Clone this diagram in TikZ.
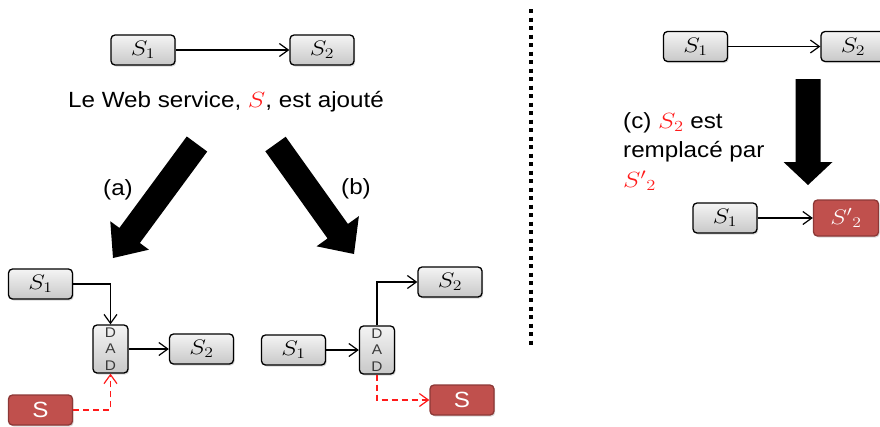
\RequirePackage{fix-cm}
\documentclass[tikz,border=0pt]{standalone}
\usepackage{fontspec}
\setmainfont{Liberation Sans}[FakeStretch=1.1]
\usetikzlibrary{arrows.meta,calc,shadows}

\definecolor{boxtop}{HTML}{F4F4F4}
\definecolor{boxbot}{HTML}{C8C8C8}
\definecolor{svcred}{HTML}{C0504D}
\definecolor{svcedge}{HTML}{8C3836}
\definecolor{hlred}{HTML}{FF1A1A}
\definecolor{dadtext}{HTML}{3A3A3A}

% service names, set a little wide
\newcommand\svname[1]{\scalebox{1.2}[1]{$#1$}}

% thick block arrow: #1 tail centre, #2 tip, #3 head length,
% #4 shaft half width, #5 head half width
\newcommand\blockarrow[5]{%
  \coordinate (#1h) at ($(#2)!#3!(#1)$);
  \fill ($(#1)!#4!90:(#2)$) -- ($(#1h)!#4!90:(#2)$) -- ($(#1h)!#5!90:(#2)$)
    -- (#2) -- ($(#1h)!#5!-90:(#2)$) -- ($(#1h)!#4!-90:(#2)$)
    -- ($(#1)!#4!-90:(#2)$) -- cycle;}

\begin{document}
\begin{tikzpicture}[x=1pt,y=-1pt,
  boxbase/.style={line width=1.3pt, rounded corners=4pt, inner sep=0pt,
    minimum width=64pt, minimum height=30pt,
    drop shadow={opacity=0.3, shadow xshift=1.2pt, shadow yshift=-1.5pt}},
  svc/.style={boxbase, draw=black, top color=boxtop, bottom color=boxbot,
    font=\fontsize{21}{21}\selectfont},
  newsvc/.style={boxbase, draw=svcedge, fill=svcred, text=white,
    font=\fontsize{22}{22}\selectfont},
  dad/.style={boxbase, draw=black, top color=boxtop, bottom color=boxbot,
    minimum width=35pt, minimum height=48pt, align=center, text=dadtext,
    font=\fontsize{14}{16.5}\selectfont},
  lbl/.style={font=\fontsize{22}{29.5}\selectfont, inner sep=0pt},
  conn/.style={-{Straight Barb[length=9pt,width=13pt]}, line width=1.2pt},
  newconn/.style={conn, draw=hlred, dash pattern=on 6pt off 4pt},
]
\useasboundingbox (0,0) rectangle (880,426);
\clip (0,0) rectangle (880,426);

% ---- initial composition
\node[svc] (s1) at (143,50) {\svname{S_1}};
\node[svc] (s2) at (322,50) {\svname{S_2}};
\draw[conn] (s1) -- (s2);
\node[lbl, anchor=base] (title) at (226,107)
  {Le Web service, \textcolor{hlred}{\svname{S}}, est ajouté};

% ---- the two insertion cases
\coordinate (ta) at (197,144);
\coordinate (pa) at (113,258);
\blockarrow{ta}{pa}{28pt}{12.7pt}{24pt}
\coordinate (tb) at (275.5,144);
\coordinate (pb) at (354,254);
\blockarrow{tb}{pb}{28pt}{12.5pt}{26pt}
\node[lbl] (la) at (118,190) {(a)};
\node[lbl] (lb) at (356,189) {(b)};

% ---- case (a): S feeds the DAD
\node[svc] (a1) at (40.5,284) {\svname{S_1}};
\node[dad] (ad) at (110.5,349) {D\\A\\D};
\node[svc] (a2) at (201.5,349) {\svname{S_2}};
\node[newsvc] (as) at (40.5,410) {S};
\draw[conn] (a1.east) -| (ad.north);
\draw[conn] (ad) -- (a2);
\draw[newconn] (as.east) -| (ad.south);

% ---- case (b): the DAD feeds S
\node[svc] (b1) at (293.5,350) {\svname{S_1}};
\node[dad] (bd) at (377,350) {D\\A\\D};
\node[svc] (b2) at (450,282) {\svname{S_2}};
\node[newsvc] (bs) at (462,400) {S};
\draw[conn] (b1) -- (bd);
\draw[conn] (bd.north) |- (b2.west);
\draw[newconn] (bd.south) |- (bs.west);

% ---- separator
\draw[line width=4pt, dash pattern=on 4pt off 4.5pt] (531,9) -- (531,347);

% ---- case (c): replacement
\node[svc] (c1) at (695.5,46.5) {\svname{S_1}};
\node[svc] (c2) at (853,46.5) {\svname{S_2}};
\draw[conn] (c1) -- (c2);
\coordinate (tc) at (808,79);
\coordinate (pc) at (808,185);
\blockarrow{tc}{pc}{23pt}{12.5pt}{24.5pt}
% base anchor of a multi-line node sits on its last line
\node[lbl, anchor=base west, align=left] (lc) at (623,187)
  {(c) \textcolor{hlred}{\svname{S_2}} est\\remplacé par\\\textcolor{hlred}{\svname{{S'}_2}}};
\node[svc] (d1) at (725,218) {\svname{S_1}};
\node[newsvc, minimum height=36pt, minimum width=65pt,
  font=\fontsize{21}{21}\selectfont] (d2) at (846,218) {\svname{{S'}_2}};
\draw[conn] (d1) -- (d2);
\end{tikzpicture}
\end{document}
